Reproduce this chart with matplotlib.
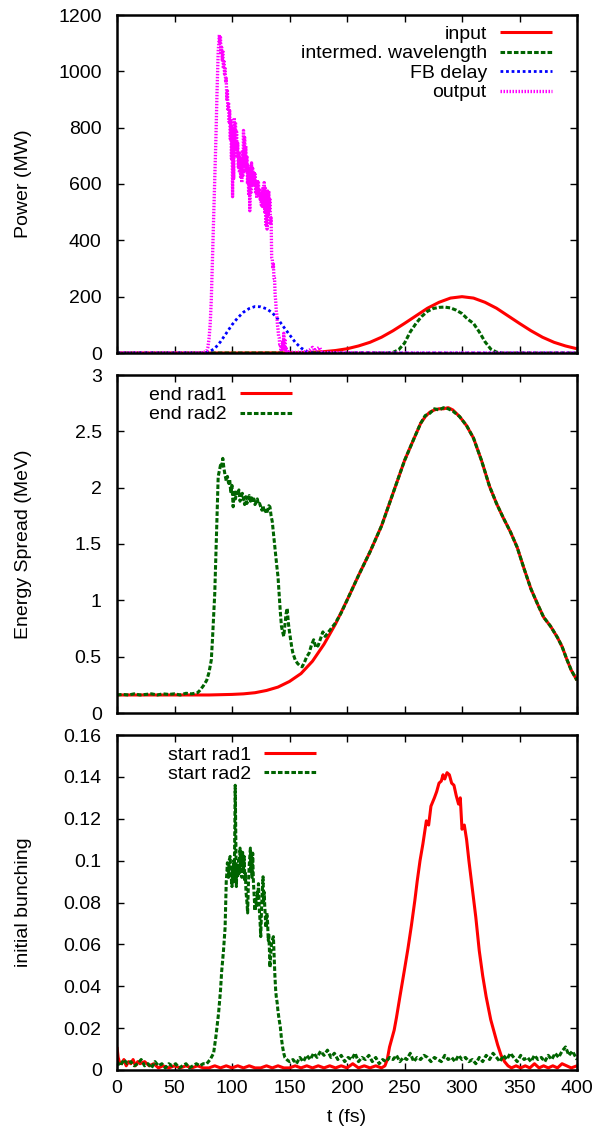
import numpy as np
import matplotlib
matplotlib.use('Agg')
import matplotlib.pyplot as plt

plt.rcParams['font.family'] = ['Liberation Sans', 'DejaVu Sans']
FS = 14

# ---------------- top panel: power ----------------
inp_t = [0, 50, 100, 150, 160, 170, 180, 190, 200, 210, 220, 230, 240, 250, 260, 270, 280, 290, 300,
         310, 320, 330, 340, 350, 360, 370, 380, 390, 400]
inp_p = [0, 0, 0, 0.6, 1.3, 2.5, 4.9, 8.8, 15, 25, 38, 56, 79, 105, 132, 159, 180, 195, 200,
         195, 180, 159, 132, 105, 79, 56, 38, 25, 15]

mid_t = [0, 230, 235, 240, 245, 250, 255, 260, 265, 270, 275, 280, 285, 290, 295, 300, 305, 310,
         315, 320, 325, 330, 335, 340, 400]
mid_p = [0, 0, 0, 2, 12, 35, 75, 105, 130, 148, 158, 162, 163, 160, 152, 140, 120, 105,
         75, 40, 14, 3, 0, 0, 0]

fb_t = [0, 70, 75, 80, 85, 90, 95, 100, 105, 110, 115, 120, 125, 130, 135, 140, 145, 150, 155,
        160, 165, 170, 400]
fb_p = [0, 0, 0, 4, 16, 40, 70, 100, 125, 145, 158, 165, 164, 157, 143, 120, 92, 65, 38,
        18, 6, 0, 0]

out_rise_t = [0, 40, 60, 70, 74, 76, 78, 79, 80, 81, 82, 83, 84, 85, 86, 87, 88]
out_rise_p = [0, 0, 0, 0, 1, 3, 8, 20, 50, 100, 190, 330, 460, 600, 760, 930, 1070]
out_noisy_t = list(range(89, 149))
out_hi = [1130, 1120, 1085, 1075, 1040, 1010, 975, 930, 890, 860,
          830, 800, 790, 835, 820, 785, 745, 715, 690, 660,
          720, 790, 765, 735, 700, 665, 640, 655, 675, 655,
          645, 635, 610, 615, 605, 585, 565, 575, 590, 605,
          585, 565, 575, 575, 545, 480, 335, 315, 265, 185,
          135, 85, 55, 30, 22, 40, 70, 50, 22, 10]
out_lo = [1100, 1060, 1040, 1010, 990, 960, 900, 860, 820, 760,
          690, 555, 620, 700, 730, 700, 660, 640, 620, 605,
          630, 650, 660, 640, 600, 560, 505, 570, 600, 610,
          590, 565, 550, 565, 560, 545, 525, 520, 530, 500,
          455, 440, 485, 500, 455, 340, 300, 265, 205, 150,
          100, 60, 30, 12, 6, 12, 25, 10, 4, 2]
out_tail_t = [150, 155, 160, 165, 168, 170, 172, 174, 176, 178, 180, 200, 250, 300, 400]
out_tail_p = [3, 2, 3, 5, 12, 20, 8, 15, 20, 6, 2, 1, 0, 0, 0]

# ---------------- middle panel: energy spread ----------------
er1_t = [0, 20, 40, 60, 80, 100, 110, 120, 130, 140, 150, 160, 170, 180, 190, 200, 210, 220, 230,
         240, 250, 258, 264, 268, 272, 276, 280, 284, 288, 292, 298, 304, 310, 317, 324, 330,
         336, 342, 348, 354, 360, 366, 371, 377, 383, 387, 391, 395, 400]
er1_v = [0.16, 0.16, 0.16, 0.16, 0.16, 0.165, 0.17, 0.18, 0.2, 0.23, 0.28, 0.35, 0.46, 0.61, 0.79,
         1.0, 1.22, 1.43, 1.66, 1.95, 2.24, 2.43, 2.57, 2.63, 2.67, 2.69, 2.70, 2.70, 2.71, 2.69,
         2.63, 2.55, 2.44, 2.24, 2.01, 1.86, 1.73, 1.61, 1.47, 1.28, 1.10, 0.96, 0.85, 0.77,
         0.67, 0.59, 0.48, 0.38, 0.29]

er2_t = ([0, 5, 10, 15, 20, 25, 30, 35, 40, 45, 50, 55, 60, 65, 70, 72, 75, 78, 80, 82]
         + list(range(83, 154))
         + [155, 157, 159, 161, 163, 165, 167, 169, 171, 173, 175, 177, 179, 181, 184, 187, 190,
            195, 200, 210, 220, 230, 240, 250, 258, 264, 268, 272, 276, 280, 284, 288, 292, 298,
            304, 310, 317, 324, 330, 336, 342, 348, 354, 360, 366, 371, 377, 383, 387, 391, 395, 400])
er2_v = [0.16, 0.165, 0.16, 0.17, 0.16, 0.165, 0.17, 0.16, 0.17, 0.165, 0.17, 0.16, 0.175, 0.17,
         0.18, 0.2, 0.24, 0.29, 0.36, 0.47,
         0.65, 0.85, 1.06, 1.4, 1.75, 2.1, 2.15, 2.2, 2.18, 2.26, 2.17, 2.11, 2.06, 2.1, 2.04,
         2.07, 1.95, 2.02, 1.83, 1.98, 1.9, 1.96, 1.93, 1.98, 1.88, 1.92, 1.95, 1.9, 1.85, 1.92,
         1.86, 1.9, 1.93, 1.88, 1.91, 1.87, 1.9, 1.85, 1.875, 1.9, 1.85, 1.86, 1.83, 1.8, 1.84,
         1.78, 1.8, 1.77, 1.8, 1.84, 1.83, 1.75, 1.7, 1.6, 1.5, 1.4, 1.3, 1.21, 1.05, 0.9, 0.77,
         0.72, 0.68, 0.78, 0.88, 0.93, 0.8, 0.72, 0.65, 0.58, 0.53,
         0.47, 0.44, 0.42, 0.41, 0.45, 0.5, 0.53, 0.6, 0.65, 0.58, 0.6, 0.66, 0.72, 0.68, 0.72,
         0.76, 0.8, 0.89, 1.0, 1.22, 1.43, 1.66, 1.95, 2.24, 2.43, 2.57, 2.64, 2.66, 2.70, 2.69,
         2.71, 2.70, 2.68, 2.63, 2.55, 2.44, 2.24, 2.01, 1.86, 1.73, 1.61, 1.47, 1.28, 1.10, 0.96,
         0.85, 0.77, 0.67, 0.59, 0.48, 0.38, 0.29]

# ---------------- bottom panel: initial bunching ----------------
sr1_t = ([0, 1, 2, 4, 6, 8, 10, 12, 14, 16, 18, 20, 24, 28, 32, 36, 40]
         + list(range(45, 231, 5))
         + [233, 235, 237, 239, 241, 243, 246, 250, 253, 256, 259, 261, 263.5, 266, 269, 271, 273,
            276, 278, 280, 282, 283.5, 285, 287, 289, 291, 293, 295, 297, 298.5, 300, 302, 304,
            306, 308, 310, 312, 315, 318, 321, 325, 328, 331, 334, 337, 340]
         + [343, 347, 351, 355, 359, 363, 367, 371, 375, 379, 383, 387, 391, 395, 400])
sr1_v = [0.011, 0.006, 0.004, 0.003, 0.005, 0.002, 0.004, 0.003, 0.005, 0.002, 0.004, 0.003,
         0.004, 0.002, 0.003, 0.001, 0.002,
         0.001, 0.002, 0.001, 0.002, 0.001, 0.002, 0.001, 0.001, 0.002, 0.001,
         0.002, 0.001, 0.002, 0.001, 0.002, 0.001, 0.001, 0.002, 0.001, 0.002,
         0.001, 0.001, 0.002, 0.001, 0.002, 0.001, 0.002, 0.001, 0.002, 0.001,
         0.002, 0.001, 0.003, 0.001, 0.002, 0.001, 0.002, 0.001,
         0.002, 0.005, 0.011, 0.015, 0.019, 0.025, 0.035, 0.048, 0.058, 0.069,
         0.081, 0.09, 0.1, 0.108, 0.119, 0.117, 0.126, 0.13, 0.133, 0.137,
         0.138, 0.141, 0.139, 0.142, 0.141, 0.137, 0.136, 0.131, 0.127, 0.13,
         0.115, 0.117, 0.11, 0.1, 0.091, 0.082, 0.073, 0.057, 0.045, 0.035,
         0.024, 0.018, 0.012, 0.007, 0.004, 0.002,
         0.001, 0.002, 0.001, 0.002, 0.001, 0.003, 0.001, 0.002, 0.001, 0.002, 0.001, 0.003,
         0.002, 0.001, 0.002]

sr2_t = (list(range(0, 76, 3))
         + [78, 81, 84, 86, 88.3, 90, 91, 92.6, 94, 94.5, 95, 95.5, 96, 97, 97.5, 98.4, 99, 100,
            100.5, 101, 101.5, 102, 102.8, 103.3, 103.8, 104.3, 105, 105.8, 106.3, 107, 107.5,
            108, 108.6, 109.2, 110, 110.6, 111.2, 111.6, 112.2, 113, 113.6, 114.2, 115, 115.5,
            116, 116.5, 117, 117.5, 118, 118.6, 119.3, 120, 120.6, 121.3, 122, 122.5, 123, 123.6,
            124.3, 125, 125.6, 126.3, 127, 127.5, 128, 128.5, 129, 129.6, 130.3, 131, 131.5, 132,
            132.5, 133, 133.6, 134.3, 135, 136, 136.6, 137.3, 138, 138.5, 139.3, 140, 141, 142,
            143, 144, 145, 146, 148]
         + list(range(150, 400, 3)) + [400])
sr2_v = [0.004, 0.002, 0.005, 0.003, 0.004, 0.002, 0.003, 0.005, 0.002, 0.003, 0.001, 0.004,
         0.002, 0.003, 0.001, 0.003, 0.002, 0.003, 0.001, 0.002, 0.003, 0.001, 0.002, 0.003,
         0.002, 0.003,
         0.003, 0.005, 0.008, 0.016, 0.027, 0.038, 0.047, 0.057, 0.068, 0.08, 0.09, 0.094, 0.099,
         0.092, 0.1, 0.102, 0.094, 0.0876, 0.097, 0.092, 0.1, 0.09, 0.136, 0.11, 0.0876, 0.098,
         0.092, 0.1003, 0.094, 0.106, 0.095, 0.103, 0.092, 0.104, 0.095, 0.102, 0.09, 0.094,
         0.085, 0.08, 0.075, 0.088, 0.098, 0.102, 0.106, 0.095, 0.104, 0.092, 0.1036, 0.09,
         0.083, 0.076, 0.082, 0.078, 0.085, 0.082, 0.089, 0.078, 0.072, 0.0637, 0.075, 0.085,
         0.0923, 0.08, 0.085, 0.078, 0.073, 0.068, 0.075, 0.07, 0.062, 0.065, 0.058, 0.049,
         0.055, 0.06, 0.062, 0.0637, 0.055, 0.045, 0.038, 0.035, 0.032, 0.028, 0.024, 0.0207,
         0.015, 0.011, 0.008, 0.006, 0.0048,
         0.004, 0.005, 0.003, 0.006, 0.004, 0.007, 0.005, 0.008, 0.006, 0.009, 0.007, 0.0095,
         0.006, 0.008, 0.005, 0.007, 0.004, 0.006, 0.005, 0.008, 0.004, 0.006, 0.005, 0.007,
         0.004, 0.006, 0.003, 0.005, 0.004, 0.006, 0.005, 0.007, 0.004, 0.006, 0.005, 0.008,
         0.004, 0.006, 0.005, 0.007, 0.006, 0.004, 0.006, 0.005, 0.004, 0.007, 0.005, 0.006,
         0.004, 0.007, 0.005, 0.006, 0.004, 0.005, 0.003, 0.006, 0.004, 0.007, 0.005, 0.008,
         0.006, 0.004, 0.007, 0.005, 0.008, 0.006, 0.004, 0.007, 0.005, 0.006, 0.004, 0.007,
         0.005, 0.006, 0.004, 0.007, 0.005, 0.008, 0.006, 0.009, 0.011, 0.007, 0.009, 0.006,
         0.005]

# tick labels
x_ticks = [0, 50, 100, 150, 200, 250, 300, 350, 400]
p_ticks = [0, 200, 400, 600, 800, 1000, 1200]
e_ticks = [0, 0.5, 1, 1.5, 2, 2.5, 3]
e_labels = ['0', '0.5', '1', '1.5', '2', '2.5', '3']
b_ticks = [0, 0.02, 0.04, 0.06, 0.08, 0.1, 0.12, 0.14, 0.16]
b_labels = ['0', '0.02', '0.04', '0.06', '0.08', '0.1', '0.12', '0.14', '0.16']

assert len(inp_t) == len(inp_p)
assert len(mid_t) == len(mid_p)
assert len(fb_t) == len(fb_p)
assert len(out_rise_t) == len(out_rise_p)
assert len(out_noisy_t) == len(out_hi) == len(out_lo)
assert len(out_tail_t) == len(out_tail_p)
assert len(er1_t) == len(er1_v), (len(er1_t), len(er1_v))
assert len(er2_t) == len(er2_v), (len(er2_t), len(er2_v))
assert len(sr1_t) == len(sr1_v), (len(sr1_t), len(sr1_v))
assert len(sr2_t) == len(sr2_v), (len(sr2_t), len(sr2_v))

# build the rapidly oscillating output trace from its high/low samples
out_t = list(out_rise_t)
out_p = list(out_rise_p)
for t, h, l in zip(out_noisy_t, out_hi, out_lo):
    out_t += [t, t + 0.5]
    out_p += [h, l]
out_t += out_tail_t
out_p += out_tail_p

RED = '#ff0000'
GREEN = '#006400'
BLUE = '#0000ff'
MAG = '#ff00ff'

fig = plt.figure(figsize=(6.02, 11.32), dpi=100)
L, W = 117 / 602, 460 / 602


def rect(top_px, bot_px):
    return [L, 1 - bot_px / 1132, W, (bot_px - top_px) / 1132]


ax1 = fig.add_axes(rect(15, 353))
ax2 = fig.add_axes(rect(375, 713))
ax3 = fig.add_axes(rect(735, 1070))

red_kw = dict(color=RED, lw=2.2, solid_capstyle='butt')
grn_kw = dict(color=GREEN, lw=2.2, dashes=(1.5, 0.7))

ax1.plot(inp_t, inp_p, label='input', **red_kw)
ax1.plot(mid_t, mid_p, label='intermed. wavelength', **grn_kw)
ax1.plot(fb_t, fb_p, label='FB delay', color=BLUE, lw=2.0, dashes=(1, 1))
ax1.plot(out_t, out_p, label='output', color=MAG, lw=2.4, dashes=(0.45, 0.45))

ax2.plot(er1_t, er1_v, label='end rad1', **red_kw)
ax2.plot(er2_t, er2_v, label='end rad2', **grn_kw)

ax3.plot(sr1_t, sr1_v, label='start rad1', **red_kw)
ax3.plot(sr2_t, sr2_v, label='start rad2', **grn_kw)

ax1.set_ylim(0, 1200)
ax1.set_yticks(p_ticks)
ax2.set_ylim(0, 3)
ax2.set_yticks(e_ticks)
ax2.set_yticklabels(e_labels)
ax3.set_ylim(0, 0.16)
ax3.set_yticks(b_ticks)
ax3.set_yticklabels(b_labels)

for ax in (ax1, ax2, ax3):
    ax.set_xlim(0, 400)
    ax.set_xticks(x_ticks)
    for s in ax.spines.values():
        s.set_linewidth(1.8)
    ax.tick_params(direction='in', length=5, width=1.0, top=True, right=True,
                   labelsize=FS)
    ax.tick_params(axis='y', pad=11)
    ax.tick_params(axis='x', pad=7)
ax1.tick_params(axis='x', labelbottom=False)
ax2.tick_params(axis='x', labelbottom=False)

leg_kw = dict(fontsize=FS, frameon=False, markerfirst=False, handlelength=2.7,
              handletextpad=0.65, labelspacing=0.1, borderpad=0, borderaxespad=0,
              loc='upper right')
ax1.legend(bbox_to_anchor=((552 - 117) / 460, 0.970), **leg_kw)
ax2.legend(bbox_to_anchor=((292 - 117) / 460, 0.967), **leg_kw)
ax3.legend(bbox_to_anchor=((316 - 117) / 460, 0.967), **leg_kw)

fig.text(24 / 602, 1 - 184 / 1132, 'Power (MW)', rotation=90, ha='center', va='center', fontsize=FS)
fig.text(24 / 602, 1 - 544 / 1132, 'Energy Spread (MeV)', rotation=90, ha='center', va='center', fontsize=FS)
fig.text(24 / 602, 1 - 902 / 1132, 'initial bunching', rotation=90, ha='center', va='center', fontsize=FS)
fig.text(347 / 602, 1 - 1118 / 1132, 't (fs)', ha='center', va='center', fontsize=FS)

fig.savefig('out.png', dpi=100)
